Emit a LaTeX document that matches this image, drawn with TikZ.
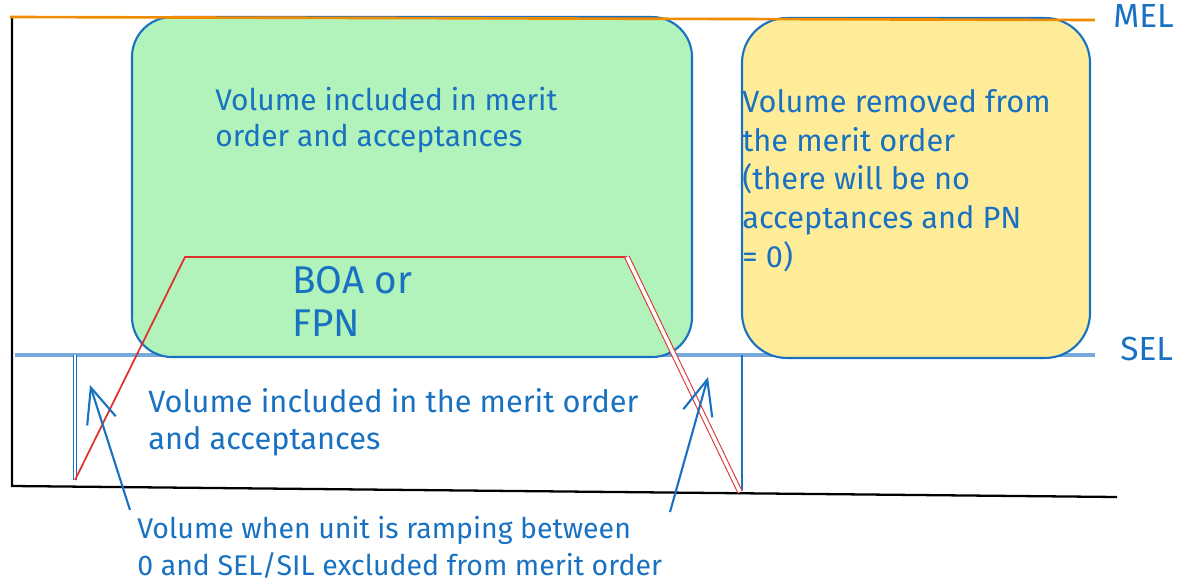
\documentclass[tikz,border=0pt]{standalone}
\usepackage{fontspec}
\setmainfont{Fira Sans}
\usetikzlibrary{arrows.meta,positioning}
\definecolor{penblue}{HTML}{1971C2}
\definecolor{penred}{HTML}{E03131}
\definecolor{penorange}{HTML}{F08C00}
\definecolor{mintfill}{HTML}{B2F2BB}
\definecolor{sandfill}{HTML}{FFEC99}
\tikzset{
    %Define standard arrow tip
    >={Straight Barb[length=7mm,width=6mm]},
    %Define style for boxes
    gbox/.style={
           rectangle,
           rounded corners=0.8cm,
           draw=penblue, line width=1.2pt,
           fill=mintfill,
           minimum width=11.2cm,
           minimum height=6.8cm},
    ybox/.style={
           rectangle,
           rounded corners=0.9cm,
           draw=penblue, line width=1.2pt,
           fill=sandfill,
           minimum width=6.96cm,
           minimum height=6.8cm},
    % Define text style (placed at the baseline of the last line)
    note/.style={
           text=penblue,
           align=left,
           inner sep=0pt,
           anchor=base west,
           font=\fontsize{17}{21}\selectfont},
    % Define line styles
    axis/.style={
           draw=black,
           line width=1.3pt},
    lvl/.style={
           line width=1.5pt},
    fpn/.style={
           draw=penred,
           line width=1pt},
    pil/.style={
           ->,
           draw=penblue,
           line width=1.2pt}
}
\begin{document}
\begin{tikzpicture}[x=0.2mm, y=-0.2mm]
    \useasboundingbox (0,0) rectangle (1182,584);

    % LEVELS AND AXES
    \coordinate (melL) at (10,17);
    \coordinate (melR) at (1095,20);
    \coordinate (selL) at (15,355);
    \coordinate (selR) at (1095,355);
    \coordinate (ytop) at (12,18);
    \coordinate (org) at (12,486);
    \coordinate (xend) at (1117,497);

    \draw[axis] (ytop) -- (org) -- (xend);
    \draw[lvl, draw=penblue!60, line width=2.2pt] (selL) -- (selR);

    % BOXES
    \node[gbox] at (412,187) (inbox) {};
    \node[ybox] at (916,188) (outbox) {};
    \draw[lvl, draw=penorange] (melL) -- (melR);

    % DIVIDERS
    \coordinate (dl0) at (75,355);
    \coordinate (dl1) at (75,480);
    \coordinate (dr0) at (742,355);
    \coordinate (dr1) at (742,490);
    \draw[penblue, double, line width=0.6pt] (dl0) -- (dl1);
    \draw[penblue, line width=1pt] (dr0) -- (dr1);

    % RAMP
    \coordinate (r0) at (75,480);
    \coordinate (r1) at (185,257);
    \coordinate (r2) at (627,257);
    \coordinate (r3) at (740,492);
    \draw[fpn] (r0) -- (r1) -- (r2);
    \draw[fpn, double=white, double distance=2pt, line width=0.6pt] (r2) -- (r3);

    % LABELS
    \node[note] at (215,147) (intext) {Volume included in merit\\order and acceptances};
    \node[note, font=\fontsize{17.5}{22}\selectfont] at (742,267) (outtext)
        {Volume removed from\\the merit order\\(there will be no\\acceptances and PN\\= 0)};
    \node[note, font=\fontsize{22}{24.4}\selectfont] at (292,336) (boa) {BOA or\\FPN};
    \node[note, font=\fontsize{17.5}{21}\selectfont] at (148,449) (seltext)
        {Volume included in the merit order\\and acceptances};
    \node[note, font=\fontsize{16.2}{20.5}\selectfont] at (137,575) (ramptext)
        {Volume when unit is ramping between\\0 and SEL/SIL excluded from merit order};
    \node[note, font=\fontsize{19}{21}\selectfont] at (1113,28) (mel) {MEL};
    \node[note, font=\fontsize{19}{21}\selectfont] at (1120,360) (sel) {SEL};

    % POINTERS
    \coordinate (p1s) at (130,510);
    \coordinate (p1e) at (90,385);
    \coordinate (p2s) at (670,512);
    \coordinate (p2e) at (708,377);
    \draw[pil] (p1s) -- (p1e);
    \draw[pil] (p2s) -- (p2e);
\end{tikzpicture}
\end{document}
